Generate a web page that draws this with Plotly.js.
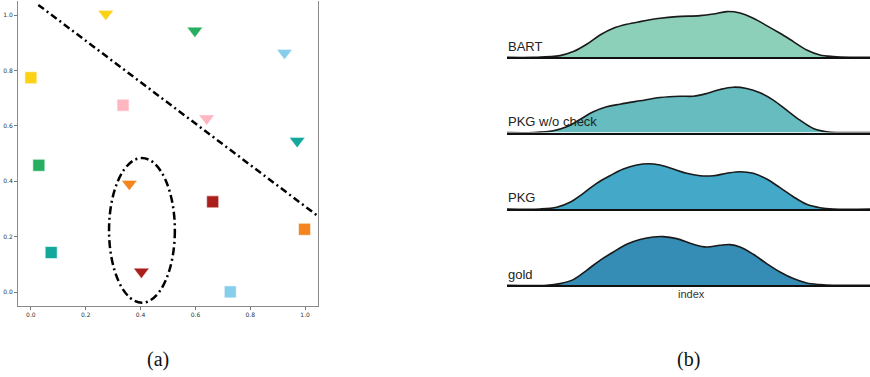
<!DOCTYPE html>
<html>
<head>
<meta charset="utf-8">
<script src="https://cdn.plot.ly/plotly-3.0.1.min.js"></script>
<style>
html,body{margin:0;padding:0;background:#fff;}
#chart{width:870px;height:377px;}
</style>
</head>
<body>
<div id="chart"></div>
<script>
// ---------- Panel (a): scatter ----------
const squareX = [0.000, 0.336, 0.029, 0.663, 0.998, 0.074, 0.727];
const squareY = [0.774, 0.675, 0.458, 0.326, 0.227, 0.143, 0.001];
const squareColors = ['#fcd116', '#ffb6c1', '#27ae60', '#aa1f1b', '#f5841f', '#13a89b', '#87ceeb'];

const triX = [0.273, 0.598, 0.925, 0.641, 0.971, 0.359, 0.403];
const triY = [1.005, 0.944, 0.864, 0.627, 0.546, 0.391, 0.074];
const triColors = ['#fcd116', '#27ae60', '#87ceeb', '#ffb6c1', '#13a89b', '#f5841f', '#aa1f1b'];

const boundaryX = [0.027, 1.049];
const boundaryY = [1.037, 0.273];

const ellipseXRange = [0.285, 0.525];
const ellipseYRange = [-0.038, 0.484];

const aTicks = [0.0, 0.2, 0.4, 0.6, 0.8, 1.0];

// ---------- Panel (b): ridgeline ----------
const ridgeNames = ['BART', 'PKG w/o check', 'PKG', 'gold'];
const ridgeColors = ['#8dd0b9', '#66bcbe', '#44a8c8', '#358db5'];

const bartX = [2, 10, 18, 22, 26, 30, 34, 38, 42, 48, 53, 60, 64, 68, 72, 76, 80, 84, 88, 92, 96, 100, 105, 111];
const bartY = [0, 0, 0.0017, 0.0057, 0.013, 0.0223, 0.029, 0.033, 0.0357, 0.039, 0.0407, 0.0417, 0.0433, 0.0457, 0.0443, 0.039, 0.0317, 0.024, 0.0157, 0.0073, 0.0023, 0.0007, 0, 0];

const pkgNoCheckX = [2, 10, 16, 20, 24, 28, 32, 36, 42, 48, 54, 58, 62, 66, 70, 74, 78, 82, 86, 90, 94, 98, 102, 111];
const pkgNoCheckY = [0, 0, 0.0017, 0.0057, 0.013, 0.0207, 0.0257, 0.0283, 0.0317, 0.035, 0.0363, 0.0363, 0.039, 0.043, 0.0453, 0.044, 0.0397, 0.0323, 0.0223, 0.0123, 0.004, 0.0007, 0, 0];

const pkgX = [2, 12, 17, 21, 25, 29, 33, 37, 41, 44.5, 48, 52, 56, 60, 64, 68, 72, 76, 80, 84, 88, 92, 96, 100, 111];
const pkgY = [0, 0, 0.0017, 0.0067, 0.0157, 0.0257, 0.0333, 0.040, 0.044, 0.0453, 0.044, 0.040, 0.0357, 0.0333, 0.0333, 0.0357, 0.0373, 0.0357, 0.030, 0.0213, 0.0123, 0.0047, 0.0013, 0, 0];

const goldX = [2, 14, 18, 22, 26, 30, 34, 38, 42, 46, 49, 53, 58, 62, 66, 69, 72, 76, 80, 84, 88, 92, 96, 100, 111];
const goldY = [0, 0, 0.0017, 0.0057, 0.015, 0.025, 0.0333, 0.041, 0.0457, 0.0483, 0.0487, 0.0467, 0.041, 0.0383, 0.040, 0.0407, 0.0383, 0.031, 0.0217, 0.0133, 0.0067, 0.0023, 0.0007, 0, 0];

const ridgeXs = [bartX, pkgNoCheckX, pkgX, goldX];
const ridgeYs = [bartY, pkgNoCheckY, pkgY, goldY];

const W = 870, H = 377;
const px = v => v / W;
const py = v => (H - v) / H;

const data = [];
// panel (a)
data.push({
  type: 'scatter', mode: 'lines', x: boundaryX, y: boundaryY,
  line: {color: '#000', width: 2.5, dash: '7px,3.5px,2px,3.5px'},
  xaxis: 'x', yaxis: 'y', hoverinfo: 'skip', showlegend: false
});
data.push({
  type: 'scatter', mode: 'markers', x: squareX, y: squareY,
  marker: {symbol: 'square', size: 12, color: squareColors, line: {color: '#fff', width: 0.6}},
  xaxis: 'x', yaxis: 'y', showlegend: false
});
data.push({
  type: 'scatter', mode: 'markers', x: triX, y: triY,
  marker: {symbol: 'triangle-down', size: 13.5, color: triColors, line: {color: '#fff', width: 0.4}},
  xaxis: 'x', yaxis: 'y', showlegend: false
});

// panel (b)
const baselines = [57.3, 132.5, 209, 285.3];
const ridgeHeightPx = 55;
const layout = {
  width: W, height: H,
  margin: {l: 0, r: 0, t: 0, b: 0},
  paper_bgcolor: '#fff', plot_bgcolor: 'rgba(0,0,0,0)',
  showlegend: false,
  xaxis: {
    domain: [px(18), px(318)], range: [-0.047, 1.047],
    showline: true, linecolor: '#8a8a8a', linewidth: 1,
    ticks: 'outside', ticklen: 3, tickwidth: 0.8, tickcolor: '#555',
    tickvals: aTicks, tickformat: '.1f',
    tickfont: {family: 'DejaVu Sans', size: 6, color: '#333'},
    showgrid: false, zeroline: false, anchor: 'y'
  },
  yaxis: {
    domain: [py(306), py(1.3)], range: [-0.05, 1.05],
    showline: true, mirror: true, linecolor: '#8a8a8a', linewidth: 1,
    ticks: 'outside', ticklen: 3, tickwidth: 0.8, tickcolor: '#555',
    tickvals: aTicks, tickformat: '.1f',
    tickfont: {family: 'DejaVu Sans', size: 6, color: '#333'},
    showgrid: false, zeroline: false, anchor: 'x'
  },
  shapes: [{
    type: 'circle', xref: 'x', yref: 'y',
    x0: ellipseXRange[0], x1: ellipseXRange[1], y0: ellipseYRange[0], y1: ellipseYRange[1],
    line: {color: '#000', width: 2.5, dash: '8px,3.5px,2px,3.5px'}
  }],
  annotations: []
};

for (let i = 0; i < 4; i++) {
  const n = i + 2;
  const xk = 'xaxis' + n, yk = 'yaxis' + n;
  const bottom = py(baselines[i]);
  const top = py(baselines[i] - ridgeHeightPx);
  layout[xk] = {
    domain: [px(507), 1], range: [2.1, 111], anchor: 'y' + n,
    showline: true, linecolor: '#111', linewidth: 2,
    showticklabels: false, ticks: '', showgrid: false, zeroline: false
  };
  if (i > 0) layout[xk].matches = 'x2';
  layout[yk] = {
    domain: [bottom, top], range: [0, 0.055], anchor: 'x' + n,
    visible: false, showgrid: false, zeroline: false
  };
  data.push({
    type: 'scatter', mode: 'lines', x: ridgeXs[i], y: ridgeYs[i],
    fill: 'tozeroy', fillcolor: ridgeColors[i],
    line: {color: '#1a1a1a', width: 1.6, shape: 'spline', smoothing: 1.0},
    xaxis: 'x' + n, yaxis: 'y' + n, name: ridgeNames[i], showlegend: false
  });
  layout.annotations.push({
    xref: 'paper', yref: 'paper', x: px(506), y: py(baselines[i] - 11),
    xanchor: 'left', yanchor: 'middle', showarrow: false,
    text: ridgeNames[i], font: {family: 'Liberation Sans', size: 13, color: '#222'}
  });
}
layout.annotations.push({
  xref: 'paper', yref: 'paper', x: px(691), y: py(293.5),
  xanchor: 'center', yanchor: 'middle', showarrow: false,
  text: 'index', font: {family: 'Liberation Sans', size: 11, color: '#333'}
});
layout.annotations.push({
  xref: 'paper', yref: 'paper', x: px(157.5), y: py(359.5),
  xanchor: 'center', yanchor: 'middle', showarrow: false,
  text: '(a)', font: {family: 'Liberation Serif', size: 20, color: '#111'}
});
layout.annotations.push({
  xref: 'paper', yref: 'paper', x: px(688), y: py(359.5),
  xanchor: 'center', yanchor: 'middle', showarrow: false,
  text: '(b)', font: {family: 'Liberation Serif', size: 20, color: '#111'}
});

Plotly.newPlot('chart', data, layout, {displayModeBar: false, staticPlot: true});
</script>
</body>
</html>
